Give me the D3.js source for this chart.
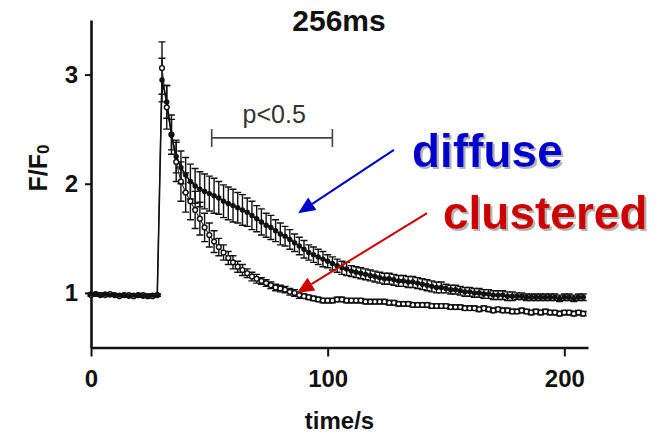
<!DOCTYPE html>
<html>
<head>
<meta charset="utf-8">
<script src="https://cdn.jsdelivr.net/npm/d3@7"></script>
<style>
  html, body { margin: 0; padding: 0; background: #fff; }
  svg { display: block; font-family: "Liberation Sans", Arial, Helvetica, sans-serif; }
</style>
</head>
<body>
<svg id="chart" width="671" height="435"></svg>
<script>
// Sample times (s)
const times = [
  0, 2, 4, 6, 8, 10, 12, 14, 16, 18, 20, 22, 24, 26, 28,
  30, 32, 34, 36, 38, 40, 42, 44, 46, 48,
  50, 52, 54, 56, 58, 60, 62, 64, 66, 68,
  70, 72, 74, 76, 78, 80, 82, 84, 86, 88,
  90, 92, 94, 96, 98, 100, 102, 104, 106, 108,
  110, 112, 114, 116, 118, 120, 122, 124, 126, 128,
  130, 132, 134, 136, 138, 140, 142, 144, 146, 148,
  150, 152, 154, 156, 158, 160, 162, 164, 166, 168,
  170, 172, 174, 176, 178, 180, 182, 184, 186, 188,
  190, 192, 194, 196, 198, 200, 202, 204, 206, 208
];

// F/F0, diffuse (mean and SEM)
const diffuseMean = [
  0.99, 0.99, 0.98, 0.99, 0.98, 0.98, 0.98, 0.98, 0.97, 0.98, 0.98, 0.97, 0.97, 0.98, 0.98,
  2.95, 2.75, 2.45, 2.25, 2.15, 2.08, 2.02, 1.98, 1.95, 1.93,
  1.91, 1.89, 1.87, 1.84, 1.82, 1.80, 1.78, 1.76, 1.74, 1.71,
  1.68, 1.65, 1.62, 1.60, 1.57, 1.54, 1.52, 1.49, 1.46, 1.43,
  1.40, 1.37, 1.35, 1.33, 1.31, 1.29, 1.27, 1.25, 1.23, 1.22,
  1.20, 1.19, 1.18, 1.17, 1.16, 1.15, 1.14, 1.13, 1.13, 1.12,
  1.11, 1.11, 1.10, 1.10, 1.09, 1.08, 1.07, 1.06, 1.05, 1.05,
  1.04, 1.03, 1.03, 1.02, 1.01, 1.01, 1.00, 1.00, 0.99, 0.99,
  0.98, 0.98, 0.98, 0.97, 0.97, 0.97, 0.97, 0.96, 0.96, 0.96,
  0.96, 0.96, 0.96, 0.96, 0.95, 0.96, 0.96, 0.95, 0.96, 0.96
];
const diffuseSem = [
  0.01, 0.01, 0.01, 0.01, 0.01, 0.01, 0.01, 0.01, 0.01, 0.01, 0.01, 0.01, 0.01, 0.01, 0.01,
  0.20, 0.15, 0.14, 0.15, 0.15, 0.16, 0.16, 0.16, 0.16, 0.16,
  0.16, 0.16, 0.15, 0.15, 0.15, 0.15, 0.14, 0.14, 0.13, 0.13,
  0.12, 0.12, 0.11, 0.11, 0.10, 0.10, 0.09, 0.09, 0.08, 0.08,
  0.08, 0.07, 0.07, 0.07, 0.07, 0.06, 0.06, 0.06, 0.06, 0.06,
  0.05, 0.05, 0.05, 0.05, 0.05, 0.05, 0.05, 0.05, 0.05, 0.05,
  0.05, 0.05, 0.05, 0.05, 0.05, 0.05, 0.05, 0.05, 0.05, 0.05,
  0.04, 0.04, 0.04, 0.04, 0.04, 0.04, 0.04, 0.04, 0.04, 0.04,
  0.04, 0.04, 0.04, 0.04, 0.04, 0.03, 0.03, 0.03, 0.03, 0.03,
  0.03, 0.03, 0.03, 0.03, 0.03, 0.03, 0.03, 0.03, 0.03, 0.03
];

// F/F0, clustered (mean and SEM)
const clusteredMean = [
  0.98, 0.99, 0.98, 0.98, 0.99, 0.98, 0.97, 0.98, 0.98, 0.97, 0.98, 0.98, 0.97, 0.97, 0.98,
  3.06, 2.70, 2.45, 2.20, 2.02, 1.92, 1.84, 1.76, 1.68, 1.60,
  1.53, 1.47, 1.42, 1.37, 1.32, 1.28, 1.24, 1.21, 1.18, 1.15,
  1.13, 1.11, 1.09, 1.07, 1.05, 1.04, 1.03, 1.01, 1.00, 0.98,
  0.97, 0.96, 0.95, 0.94, 0.93, 0.93, 0.93, 0.94, 0.94, 0.93,
  0.93, 0.93, 0.93, 0.92, 0.92, 0.92, 0.92, 0.92, 0.91, 0.91,
  0.90, 0.90, 0.90, 0.89, 0.89, 0.89, 0.89, 0.88, 0.88, 0.88,
  0.88, 0.87, 0.87, 0.87, 0.86, 0.86, 0.86, 0.85, 0.86, 0.85,
  0.84, 0.85, 0.84, 0.84, 0.83, 0.83, 0.84, 0.83, 0.82, 0.83,
  0.82, 0.83, 0.82, 0.82, 0.81, 0.82, 0.82, 0.81, 0.82, 0.81
];
const clusteredSem = [
  0.01, 0.01, 0.01, 0.01, 0.01, 0.01, 0.01, 0.01, 0.01, 0.01, 0.01, 0.01, 0.01, 0.01, 0.01,
  0.24, 0.20, 0.18, 0.18, 0.18, 0.18, 0.17, 0.17, 0.15, 0.13,
  0.11, 0.10, 0.08, 0.07, 0.06, 0.06, 0.05, 0.05, 0.04, 0.04,
  0.04, 0.03, 0.03, 0.03, 0.03, 0.03, 0.03, 0.03, 0.03, 0.03,
  0.02, 0.02, 0.02, 0.02, 0.02, 0.02, 0.02, 0.02, 0.02, 0.02,
  0.02, 0.02, 0.02, 0.02, 0.02, 0.02, 0.02, 0.02, 0.02, 0.02,
  0.02, 0.02, 0.02, 0.02, 0.02, 0.02, 0.02, 0.02, 0.02, 0.02,
  0.02, 0.02, 0.02, 0.02, 0.02, 0.02, 0.02, 0.02, 0.02, 0.02,
  0.02, 0.02, 0.02, 0.02, 0.02, 0.02, 0.02, 0.02, 0.02, 0.02,
  0.02, 0.02, 0.02, 0.02, 0.02, 0.02, 0.02, 0.02, 0.02, 0.02
];

const xTicks = [0, 100, 200];
const yTicks = [1, 2, 3];
const seriesNames = ["diffuse", "clustered"];
const chartTitle = "256ms";
const xTitle = "time/s";
const sigLabel = "p<0.5";
const sigRange = [51, 102];

const svg = d3.select("#chart");

// drop shadow used by the series labels
const defs = svg.append("defs");
const f = defs.append("filter").attr("id", "labelShadow")
  .attr("x", "-5%").attr("y", "-10%").attr("width", "115%").attr("height", "130%");
f.append("feOffset").attr("in", "SourceAlpha").attr("dx", 2).attr("dy", 2).attr("result", "off");
f.append("feFlood").attr("flood-color", "#b4b4b4").attr("result", "col");
f.append("feComposite").attr("in", "col").attr("in2", "off").attr("operator", "in").attr("result", "shadow");
const fm = f.append("feMerge");
fm.append("feMergeNode").attr("in", "shadow");
fm.append("feMergeNode").attr("in", "SourceGraphic");

const x = d3.scaleLinear().domain([0, 210]).range([91, 588]);
const y = d3.scaleLinear().domain([0.5, 3.5]).range([347.5, 20]);

const diffuse = times.map((t, i) => ({ t, v: diffuseMean[i], e: diffuseSem[i] }));
const clustered = times.map((t, i) => ({ t, v: clusteredMean[i], e: clusteredSem[i] }));

// ---- axes ----
const gx = svg.append("g")
  .attr("transform", `translate(0,${y(0.5)})`)
  .call(d3.axisBottom(x).tickValues(xTicks).tickFormat(d3.format("d"))
    .tickSize(9).tickSizeOuter(0).tickPadding(13));
const gy = svg.append("g")
  .attr("transform", `translate(${x(0)},0)`)
  .call(d3.axisLeft(y).tickValues(yTicks).tickFormat(d3.format("d"))
    .tickSize(6).tickSizeOuter(0).tickPadding(7));

[gx, gy].forEach(g => {
  g.select(".domain").attr("stroke", "#111").attr("stroke-width", 2.6);
  g.selectAll(".tick line").attr("stroke", "#111").attr("stroke-width", 2);
  g.selectAll(".tick text")
    .attr("fill", "#111")
    .style("font-size", "24px")
    .style("font-weight", "bold");
});

// axis titles
svg.append("text")
  .attr("x", (x(0) + x(210)) / 2)
  .attr("y", 429)
  .attr("text-anchor", "middle")
  .style("font-size", "24px")
  .style("font-weight", "bold")
  .attr("fill", "#111")
  .text(xTitle);

const yt = svg.append("text")
  .attr("transform", "translate(47,168) rotate(-90)")
  .attr("text-anchor", "middle")
  .style("font-size", "25px")
  .style("font-weight", "bold")
  .attr("fill", "#111");
yt.append("tspan").text("F/F");
yt.append("tspan").attr("dy", 2).style("font-size", "17px").text("0");

// title
svg.append("text")
  .attr("x", 339)
  .attr("y", 31)
  .attr("text-anchor", "middle")
  .style("font-size", "30px")
  .style("font-weight", "bold")
  .attr("fill", "#111")
  .text(chartTitle);

// ---- data ----
function errorBars(data, cls) {
  const g = svg.append("g").attr("class", cls)
    .attr("stroke", "#111").attr("stroke-width", 1.4).attr("fill", "none");
  const cap = 3.5;
  g.selectAll("path").data(data.filter(d => d.e > 0.005)).join("path")
    .attr("d", d => {
      const cx = x(d.t), top = y(d.v + d.e), bot = y(d.v - d.e);
      return `M${cx},${top}V${bot}M${cx - cap},${top}H${cx + cap}M${cx - cap},${bot}H${cx + cap}`;
    });
}

const line = d3.line().x(d => x(d.t)).y(d => y(d.v));

errorBars(clustered, "err-clustered");
errorBars(diffuse, "err-diffuse");

svg.append("path").datum(clustered)
  .attr("d", line).attr("fill", "none")
  .attr("stroke", "#333").attr("stroke-width", 1.1);
svg.append("path").datum(diffuse)
  .attr("d", line).attr("fill", "none")
  .attr("stroke", "#111").attr("stroke-width", 1.6);

svg.append("g").selectAll("circle").data(clustered).join("circle")
  .attr("cx", d => x(d.t)).attr("cy", d => y(d.v)).attr("r", 2.4)
  .attr("fill", "#fff").attr("stroke", "#111").attr("stroke-width", 1.4);

svg.append("g").selectAll("circle").data(diffuse).join("circle")
  .attr("cx", d => x(d.t)).attr("cy", d => y(d.v)).attr("r", 2.7)
  .attr("fill", "#111");

// ---- significance bracket ----
const by = y(2.42);
svg.append("path")
  .attr("d", `M${x(sigRange[0])},${by - 9}V${by + 9}M${x(sigRange[0])},${by}H${x(sigRange[1])}M${x(sigRange[1])},${by - 9}V${by + 9}`)
  .attr("fill", "none").attr("stroke", "#444").attr("stroke-width", 1.6);
svg.append("text")
  .attr("x", x((sigRange[0] + sigRange[1]) / 2 + 0.9))
  .attr("y", y(2.556))
  .attr("text-anchor", "middle")
  .style("font-size", "25px")
  .attr("fill", "#333")
  .text(sigLabel);

// ---- labelled arrows ----
function arrow(from, to, color) {
  const x0 = x(from[0]), y0 = y(from[1]), x1 = x(to[0]), y1 = y(to[1]);
  const ang = Math.atan2(y1 - y0, x1 - x0);
  const len = 17, half = 7.5;
  const bx = x1 - len * Math.cos(ang), by2 = y1 - len * Math.sin(ang);
  svg.append("line")
    .attr("x1", x0).attr("y1", y0).attr("x2", bx).attr("y2", by2)
    .attr("stroke", color).attr("stroke-width", 2);
  const px = -Math.sin(ang) * half, py = Math.cos(ang) * half;
  svg.append("path")
    .attr("d", `M${x1},${y1}L${bx + px},${by2 + py}L${bx - px},${by2 - py}Z`)
    .attr("fill", color);
}

function shadowLabel(text, px, py, color) {
  svg.append("text")
    .attr("x", px).attr("y", py)
    .attr("filter", "url(#labelShadow)")
    .style("font-size", "46px")
    .style("font-weight", "bold")
    .attr("fill", color)
    .text(text);
}

arrow([128, 2.31], [87.5, 1.73], "#0000cc");
arrow([142, 1.73], [87, 1.0], "#cc0000");
shadowLabel(seriesNames[0], 412, 167, "#0000cc");
shadowLabel(seriesNames[1], 443, 229, "#cc0000");
</script>
</body>
</html>
